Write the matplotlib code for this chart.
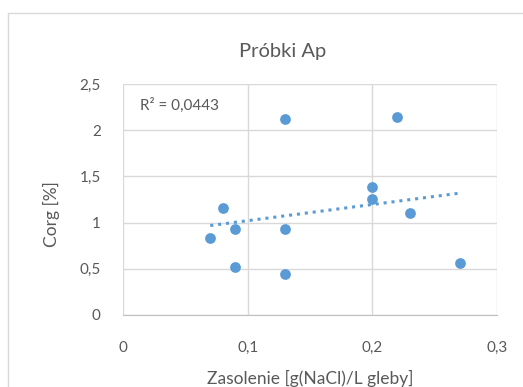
import matplotlib
matplotlib.use("Agg")
import matplotlib.pyplot as plt
import numpy as np
from matplotlib.ticker import FuncFormatter
from matplotlib.patches import Rectangle

plt.rcParams['font.family'] = ['Lato', 'DejaVu Sans']

# dane
zasolenie = [0.07, 0.08, 0.09, 0.09, 0.13, 0.13, 0.13, 0.20, 0.20, 0.22, 0.23, 0.27]
corg = [0.83, 1.16, 0.93, 0.52, 0.93, 0.44, 2.12, 1.38, 1.26, 2.14, 1.10, 0.56]
x_ticks = [0, 0.1, 0.2, 0.3]
y_ticks = [0, 0.5, 1, 1.5, 2, 2.5]
r2_text = "R² = 0,0443"

blue = '#5B9BD5'
grey = '#595959'
grid = '#D9D9D9'

fig = plt.figure(figsize=(5.23, 3.87), dpi=100)
W, H = 523, 387
ax = fig.add_axes([123 / W, 1 - 315 / H, 374 / W, 231 / H])

# ramka wykresu
fig.patches.append(Rectangle((8 / W, -0.1), 1.2, 1 - 13 / H + 0.1, transform=fig.transFigure,
                             fill=False, edgecolor=grid, lw=1))

ax.scatter(zasolenie, corg, s=60, color=blue, zorder=3, linewidths=0)

a, b = np.polyfit(zasolenie, corg, 1)
xs = np.array([min(zasolenie), max(zasolenie)])
ax.plot(xs, a * xs + b, linestyle=(0, (1, 1.6)), color=blue, lw=2.2, zorder=2)

ax.set_xlim(0, 0.3)
ax.set_ylim(0, 2.5)
ax.set_xticks(x_ticks)
ax.set_yticks(y_ticks)
fmt = FuncFormatter(lambda v, p: ('%g' % v).replace('.', ','))
ax.xaxis.set_major_formatter(fmt)
ax.yaxis.set_major_formatter(fmt)
ax.grid(True, color=grid, lw=1)
ax.set_axisbelow(True)
for s in ['top', 'right', 'left']:
    ax.spines[s].set_visible(False)
ax.spines['bottom'].set_color('#BFBFBF')
ax.tick_params(length=0, labelsize=11, colors=grey)
ax.tick_params(axis='x', pad=19)
ax.tick_params(axis='y', pad=16)

ax.set_xlabel("Zasolenie [g(NaCl)/L gleby]", fontsize=12.5, color=grey)
ax.set_ylabel("Corg [%]", fontsize=12.5, color=grey)
ax.xaxis.set_label_coords(0.5, -0.236)
ax.yaxis.set_label_coords(-0.168, 0.437)

fig.text(283 / W, 1 - 51 / H, "Próbki Ap", ha='center', va='center', fontsize=14.5, color=grey)

ax.text(0.045, 0.909, r2_text, transform=ax.transAxes, ha='left', va='center',
        fontsize=11, color=grey,
        bbox=dict(facecolor='white', edgecolor='none', pad=2))

fig.savefig("out.png", dpi=100)
